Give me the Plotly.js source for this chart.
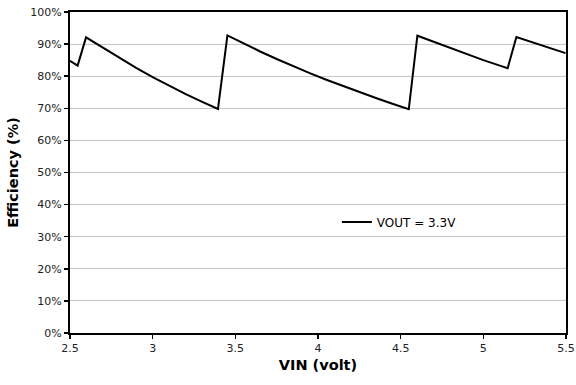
<!DOCTYPE html>
<html>
<head>
<meta charset="utf-8">
<script src="https://cdn.plot.ly/plotly-3.0.1.min.js"></script>
<style>html,body{margin:0;padding:0;background:#fff;}#chart{width:576px;height:385px;}</style>
</head>
<body>
<div id="chart"></div>
<script>
// VIN (volt)
const vin = [2.5, 2.546, 2.597, 2.7, 2.8, 2.9, 3.0, 3.1, 3.2, 3.3, 3.395,
             3.452, 3.55, 3.65, 3.75, 3.85, 3.95, 4.05, 4.15, 4.25, 4.35, 4.45, 4.549,
             4.601, 4.7, 4.8, 4.9, 5.0, 5.1, 5.147,
             5.20, 5.497];
// Efficiency (%)
const efficiency = [84.8, 83.3, 92.1, 88.8, 85.6, 82.6, 79.7, 77.0, 74.4, 72.0, 69.8,
                    92.7, 90.15, 87.7, 85.35, 83.1, 80.95, 78.9, 76.95, 75.05, 73.2, 71.4, 69.7,
                    92.6, 90.7, 88.8, 86.8, 85.0, 83.3, 82.5,
                    92.2, 87.2];
const seriesName = 'VOUT = 3.3V';
const xTicks = [2.5, 3, 3.5, 4, 4.5, 5, 5.5];
const xTickText = ['2.5', '3', '3.5', '4', '4.5', '5', '5.5'];
const yTicks = [0, 10, 20, 30, 40, 50, 60, 70, 80, 90, 100];
const yTickText = yTicks.map(v => v + '%');

const font = 'DejaVu Sans, Verdana, sans-serif';
const trace = {
  x: vin, y: efficiency, type: 'scatter', mode: 'lines', name: seriesName,
  line: {color: '#000', width: 2}
};
const layout = {
  width: 576, height: 385,
  margin: {l: 70, r: 10, t: 12, b: 52, pad: 0},
  paper_bgcolor: '#fff', plot_bgcolor: '#fff',
  font: {family: font, size: 11, color: '#222'},
  showlegend: true,
  legend: {x: 0.538, y: 0.346, xanchor: 'left', yanchor: 'middle',
           bgcolor: 'rgba(0,0,0,0)', font: {family: font, size: 12, color: '#000'}},
  xaxis: {
    range: [2.5, 5.5], tickvals: xTicks, ticktext: xTickText,
    showgrid: false, zeroline: false,
    showline: true, linecolor: '#000', linewidth: 2, mirror: true,
    ticks: 'outside', ticklen: 4, tickcolor: '#000', tickwidth: 1.5,
    tickfont: {family: font, size: 11, color: '#222'},
    title: {text: '<b>VIN (volt)</b>', font: {family: font, size: 14.5, color: '#000'}, standoff: 6}
  },
  yaxis: {
    range: [0, 100], tickvals: yTicks, ticktext: yTickText,
    showgrid: true, gridcolor: '#c6c6c6', gridwidth: 1, zeroline: false,
    showline: true, linecolor: '#000', linewidth: 2, mirror: true,
    ticks: 'outside', ticklen: 4, tickcolor: '#000', tickwidth: 1.5,
    tickfont: {family: font, size: 11, color: '#222'},
    title: {text: '<b>Efficiency (%)</b>', font: {family: font, size: 14.5, color: '#000'}, standoff: 8}
  }
};
Plotly.newPlot('chart', [trace], layout, {displayModeBar: false, staticPlot: true});
</script>
</body>
</html>
